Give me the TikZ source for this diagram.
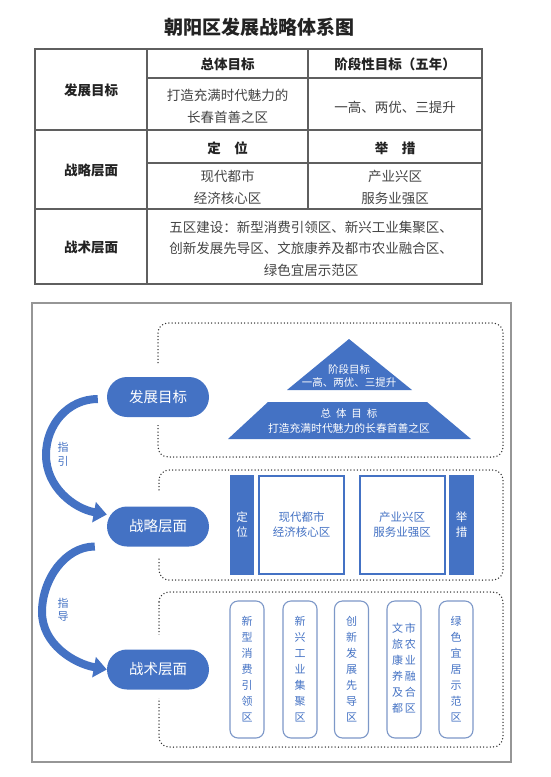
\documentclass[tikz,border=0pt]{standalone}
\usepackage{fontspec}
\setmainfont{Noto Sans CJK SC}
\usetikzlibrary{arrows.meta}
\definecolor{ofblue}{RGB}{68,114,196}
\definecolor{boxline}{RGB}{125,152,200}
\definecolor{tline}{RGB}{95,95,95}
\definecolor{txt}{RGB}{35,35,35}
\definecolor{frame}{RGB}{150,150,150}
\begin{document}
\begin{tikzpicture}[x=1pt,y=-1pt,
  tl/.style={draw=tline, line width=1.1pt},
  hd/.style={font=\fontsize{13.5}{16}\selectfont\bfseries, text=txt, inner sep=0},
  bd/.style={font=\fontsize{13.5}{22}\selectfont, text=txt!85, align=center, inner sep=0},
  pill/.style={fill=ofblue, text=white, rounded corners=20pt, minimum width=102pt, minimum height=40pt, inner sep=0, font=\fontsize{14.5}{16}\selectfont},
  dotbox/.style={draw=black!80, line width=1.5pt, line cap=round, dash pattern=on 0pt off 3.3pt, rounded corners=10pt},
  bigarrow/.style={draw=ofblue, line width=8pt, -{Triangle[width=20pt,length=13pt]}},
  glbl/.style={text=ofblue, font=\fontsize{11}{14}\selectfont, align=center, inner sep=0},
  tri/.style={text=white, font=\fontsize{10.5}{12.5}\selectfont, align=center, inner sep=0},
  bar/.style={fill=ofblue, text=white, minimum width=24pt, minimum height=100pt, inner sep=0, font=\fontsize{11.5}{15}\selectfont, align=center},
  wbox/.style={draw=ofblue, line width=2pt, minimum width=85pt, minimum height=98pt, inner sep=0, text=ofblue, font=\fontsize{11.5}{15}\selectfont, align=center},
  zone/.style={draw=boxline, line width=1.1pt, rounded corners=8pt, minimum width=34pt, minimum height=137pt, inner sep=0, text=ofblue, font=\fontsize{11}{16}\selectfont, align=center}
]
\useasboundingbox (0,0) rectangle (550,777);
\fill[white] (0,0) rectangle (550,777);

% title
\node[font=\fontsize{19}{22}\selectfont\bfseries, text=txt] (title) at (259,27) {朝阳区发展战略体系图};

% table grid
\draw[tl] (35,49) rectangle (482,284);
\draw[tl] (147,49) -- (147,284);
\draw[tl] (308,49) -- (308,209);
\draw[tl] (35,130) -- (482,130);
\draw[tl] (35,209) -- (482,209);
\draw[tl] (147,78) -- (482,78);
\draw[tl] (147,163) -- (482,163);

% table text
\node[hd] (r1) at (91,90) {发展目标};
\node[hd] (r2) at (91,170) {战略层面};
\node[hd] (r3) at (91,247) {战术层面};
\node[hd] (h1) at (227.5,64) {总体目标};
\node[hd] (h2) at (395,64) {阶段性目标（五年）};
\node[bd] (c11) at (227.5,106) {打造充满时代魅力的\\长春首善之区};
\node[bd] (c12) at (395,107) {一高、两优、三提升};
\node[hd] (h3) at (227.5,148) {定　位};
\node[hd] (h4) at (395,148) {举　措};
\node[bd] (c21) at (227.5,187) {现代都市\\经济核心区};
\node[bd] (c22) at (395,187) {产业兴区\\服务业强区};
\node[bd, font=\fontsize{13.5}{21.5}\selectfont] (c3) at (311,248.5) {五区建设：新型消费引领区、新兴工业集聚区、\\创新发展先导区、文旅康养及都市农业融合区、\\绿色宜居示范区};

% outer frame
\draw[draw=frame, line width=1.5pt] (32,303) rectangle (511,762);

% dotted boxes
\draw[dotbox] (158,323) rectangle (503,457);
\draw[dotbox] (159,470) rectangle (503,580);
\draw[dotbox] (159,592) rectangle (503,747);
\fill[white] (150,365) rectangle (168,425);
\fill[white] (150,492) rectangle (168,557);
\fill[white] (150,635) rectangle (168,698);

% pills
\node[pill] (p1) at (158,397) {发展目标};
\node[pill] (p2) at (158,526.5) {战略层面};
\node[pill] (p3) at (158,669.5) {战术层面};

% curved arrows
\coordinate (m1) at (46,455);
\coordinate (m2) at (42,612);
\draw[bigarrow] ([xshift=-9pt,yshift=-2pt]p1.west) .. controls +(-30,0) and +(0,-30) .. (m1)
  .. controls +(0,32) and +(-33,-6) .. ([yshift=12pt]p2.west);
\draw[bigarrow] ([xshift=-12pt,yshift=-20pt]p2.west) .. controls +(-30,0) and +(0,-32) .. (m2)
  .. controls +(0,32) and +(-33,-6) .. (p3.west);
\node[glbl] (g1) at (63,454) {指\\引};
\node[glbl, font=\fontsize{11}{12.5}\selectfont] (g2) at (63,610) {指\\导};

% top pyramid
\fill[ofblue] (349,339) -- (412,390) -- (287,390) -- cycle;
\fill[ofblue] (268,402) -- (427,402) -- (471,439) -- (228,439) -- cycle;
\node[tri] (t1) at (349,376) {阶段目标\\一高、两优、三提升};
\node[tri] (t2) at (349,413) {总\hspace{5pt}体\hspace{5pt}目\hspace{5pt}标};
\node[tri, font=\fontsize{10.8}{12.5}\selectfont] (t3) at (349,428) {打造充满时代魅力的长春首善之区};

% middle
\node[bar] (dw) at (242,525) {定\\位};
\node[wbox] (b1) at (301.5,525) {现代都市\\经济核心区};
\node[wbox] (b2) at (402,525) {产业兴区\\服务业强区};
\node[bar, minimum width=25pt] (js) at (461.5,525) {举\\措};

% bottom zones
\node[zone] (z1) at (247,669.5) {新\\型\\消\\费\\引\\领\\区};
\node[zone] (z2) at (300,669.5) {新\\兴\\工\\业\\集\\聚\\区};
\node[zone] (z3) at (351.5,669.5) {创\\新\\发\\展\\先\\导\\区};
\node[zone] (z4) at (404,669.5) {\begin{tabular}{@{}c@{\hspace{2pt}}c@{}}文&市\\旅&农\\康&业\\养&融\\及&合\\都&区\end{tabular}};
\node[zone] (z5) at (456,669.5) {绿\\色\\宜\\居\\示\\范\\区};
\end{tikzpicture}
\end{document}
